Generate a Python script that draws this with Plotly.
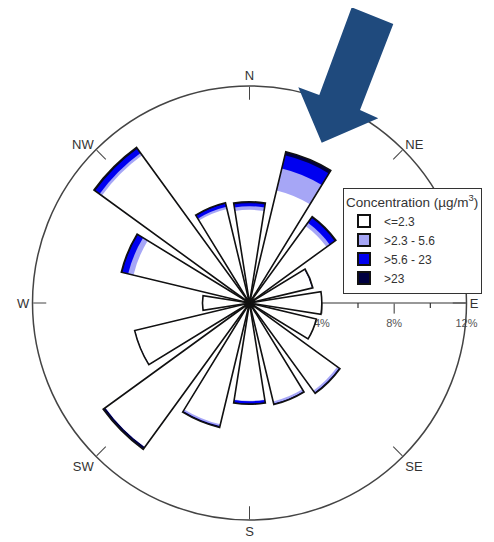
import plotly.graph_objects as go
import numpy as np

directions = ["N", "NNE", "NE", "ENE", "E", "ESE", "SE", "SSE",
              "S", "SSW", "SW", "WSW", "W", "WNW", "NW", "NNW"]
theta_deg = [0, 22.5, 45, 67.5, 90, 112.5, 135, 157.5,
             180, 202.5, 225, 247.5, 270, 292.5, 315, 337.5]

# frequency (%) per concentration class
bin_le_2_3 = [5.15, 6.40, 5.27, 3.55, 4.00, 3.80, 6.00, 5.60,
              5.40, 6.90, 9.85, 6.50, 2.60, 6.60, 10.10, 5.35]
bin_2_3_5_6 = [0.20, 1.25, 0.22, 0.00, 0.00, 0.00, 0.12, 0.12,
               0.03, 0.10, 0.00, 0.00, 0.00, 0.30, 0.15, 0.12]
bin_5_6_23 = [0.17, 0.75, 0.33, 0.00, 0.00, 0.00, 0.00, 0.00,
              0.12, 0.00, 0.00, 0.00, 0.00, 0.33, 0.30, 0.17]
bin_gt_23 = [0.08, 0.20, 0.08, 0.05, 0.00, 0.00, 0.06, 0.05,
             0.05, 0.08, 0.15, 0.03, 0.00, 0.06, 0.08, 0.06]

class_names = ["<=2.3", ">2.3 - 5.6", ">5.6 - 23", ">23"]
class_colors = ["#FFFFFF", "#A6A6F6", "#0000F0", "#000040"]

radial_major = [4, 8, 12]
radial_major_text = ["4%", "8%", "12%"]
radial_minor = [6, 10]
compass_angles = [0, 45, 90, 135, 180, 225, 270, 315]
compass_labels = ["N", "NE", "E", "SE", "S", "SW", "W", "NW"]

layers = [np.array(bin_le_2_3), np.array(bin_2_3_5_6),
          np.array(bin_5_6_23), np.array(bin_gt_23)]
cum = np.cumsum(layers, axis=0)

BAR_W = 18
fig = go.Figure()

# draw largest cumulative first (overlay), so inner classes sit on top
for i in [3, 2, 1, 0]:
    fig.add_trace(go.Barpolar(
        r=cum[i], theta=theta_deg, width=BAR_W,
        marker=dict(color=class_colors[i], line=dict(width=0)),
        showlegend=False, hoverinfo="skip"))

# single outline around each whole bar
fig.add_trace(go.Barpolar(
    r=cum[3], theta=theta_deg, width=BAR_W,
    marker=dict(color="rgba(0,0,0,0)", line=dict(color="#111111", width=1.6)),
    showlegend=False, hoverinfo="skip"))

# minor ticks on the radial axis (short marks below the axis line)
for v in radial_minor:
    d = 0.28
    fig.add_trace(go.Scatterpolar(
        r=[v, float(np.hypot(v, d))], theta=[90, 90 + float(np.degrees(np.arctan2(d, v)))],
        mode="lines", line=dict(color="#333333", width=1.2),
        showlegend=False, hoverinfo="skip"))

# legend entries
for i in range(4):
    fig.add_trace(go.Barpolar(
        r=[0], theta=[0], width=BAR_W, name=class_names[i],
        marker=dict(color=class_colors[i], line=dict(color="#111111", width=1.2)),
        hoverinfo="skip"))

# page body has an 8px margin: visible area is 486 x 534
W, H = 486, 534
OFF = 8


def px(x):
    return (x - OFF) / W


def py(y):
    return 1 - (y - OFF) / H


cx, cy, R = 249.5, 303.0, 217.0

fig.update_layout(
    width=W, height=H,
    margin=dict(l=0, r=0, t=0, b=0),
    paper_bgcolor="white",
    font=dict(family="Arial, Liberation Sans, sans-serif", color="#333333"),
    polar=dict(
        domain=dict(x=[px(cx - R), px(cx + R)], y=[py(cy + R), py(cy - R)]),
        bgcolor="rgba(0,0,0,0)",
        barmode="overlay",
        radialaxis=dict(
            range=[0, 12], showgrid=False, showline=True,
            linecolor="#333333", linewidth=1.2,
            tickvals=radial_major, ticktext=radial_major_text,
            ticks="outside", ticklen=10, tickcolor="#333333",
            angle=0, side="clockwise", layer="below traces",
            tickfont=dict(size=11, color="#555555")),
        angularaxis=dict(
            direction="clockwise", rotation=90,
            tickmode="array", tickvals=compass_angles, ticktext=compass_labels,
            showgrid=False, showline=True, linecolor="#444444", linewidth=1.5,
            ticks="inside", ticklen=13, tickcolor="#444444",
            tickfont=dict(size=13, color="#333333")),
    ),
    legend=dict(
        x=px(343), y=py(188), xanchor="left", yanchor="top",
        bgcolor="white", bordercolor="#333333", borderwidth=1,
        font=dict(size=12, color="#333333"),
        title=dict(text="Concentration (µg/m<sup>3</sup>)", font=dict(size=13.5, color="#333333")),
        tracegroupgap=0, itemsizing="constant"),
)

# big pointer arrow (decoration, pixel-based positions)
pts = [(351.7, 7.3), (393.3, 24), (360, 110), (378.3, 118.3),
       (321.7, 142.7), (298.3, 87.3), (319.3, 95)]
path = "M " + " L ".join(f"{px(x):.4f},{py(y):.4f}" for x, y in pts) + " Z"
fig.add_shape(type="path", path=path, xref="paper", yref="paper",
              fillcolor="#1F4A7D", line=dict(width=0), layer="above")

fig.write_html("out.html")
